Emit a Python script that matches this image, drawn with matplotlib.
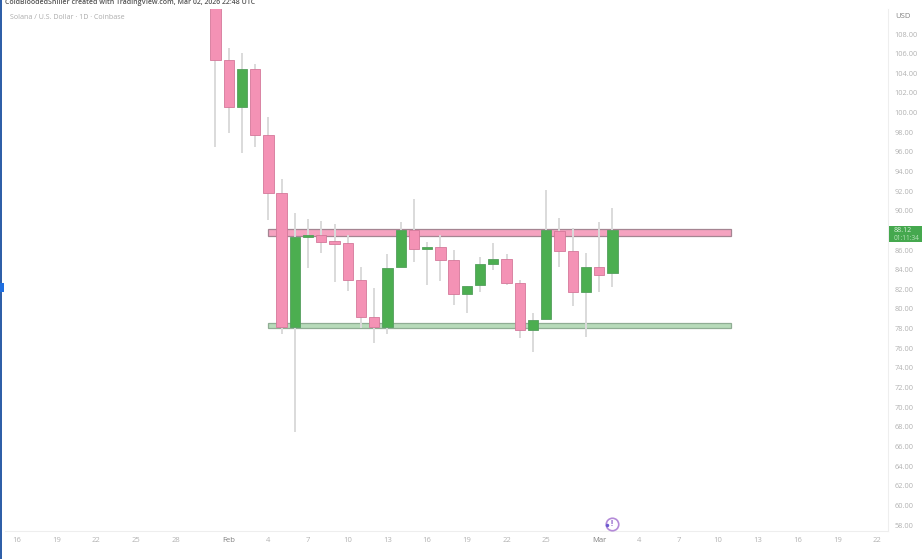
import numpy as np
import pandas as pd
import matplotlib
matplotlib.use('Agg')
from matplotlib import pyplot as plt
from matplotlib.patches import Rectangle
import matplotlib.dates as mdates

W=922
H=559
plt.rcParams['font.family']=['Open Sans','DejaVu Sans']

#Daily candles, 31 Jan to 2 Mar
dates=pd.date_range('2026-01-31','2026-03-02',freq='D')
opens=[110.6,105.40,100.60,104.44,97.71,91.84,78.19,87.33,87.53,86.92,86.69,82.92,79.21,78.19,84.24,88.01,
       86.07,86.34,85.02,81.49,82.41,84.62,85.09,82.67,77.86,78.95,87.97,85.87,81.76,84.30,83.63]
closes=[105.40,100.60,104.44,97.71,91.84,78.19,87.36,87.50,86.85,86.65,82.92,79.15,78.19,84.20,88.04,86.11,
        86.34,85.02,81.49,82.37,84.58,85.09,82.67,77.86,78.91,88.04,85.87,81.76,84.27,83.49,88.04]
highs=[110.6,106.57,106.07,104.95,99.55,93.23,89.77,89.13,88.99,88.65,87.53,84.30,82.13,85.57,88.82,91.17,
       86.85,87.53,86.00,82.37,85.32,86.69,85.60,82.90,79.56,92.11,89.23,88.21,85.67,88.82,90.25]
lows=[96.52,97.92,95.88,96.52,89.06,77.45,67.50,84.17,85.67,82.78,81.83,78.06,76.50,77.45,84.24,84.81,
      82.44,82.88,80.40,79.62,81.76,83.97,82.44,77.07,75.65,78.95,84.30,80.30,77.11,81.70,82.27]

#Support and resistance zones
zone_start='2026-02-04'
zone_end='2026-03-11'
res_zone=[87.46,88.11]
sup_zone=[78.03,78.60]

price_ticks=[58,60,62,64,66,68,70,72,74,76,78,80,82,84,86,90,92,94,96,98,100,102,104,106,108]
date_ticks=['2026-01-16','2026-01-19','2026-01-22','2026-01-25','2026-01-28','2026-02-01','2026-02-04','2026-02-07',
            '2026-02-10','2026-02-13','2026-02-16','2026-02-19','2026-02-22','2026-02-25','2026-03-01','2026-03-04',
            '2026-03-07','2026-03-10','2026-03-13','2026-03-16','2026-03-19','2026-03-22']
date_labels=['16','19','22','25','28','Feb','4','7','10','13','16','19','22','25','Mar','4','7','10','13','16','19','22']

pink='#f492b5'
pink_edge='#d4789a'
green='#4cae50'
green_edge='#549f5e'
wick='#dadada'
grey='#b2b2b2'

L,R,T,B=5,888,9,531
fig=plt.figure(figsize=(W/100,H/100),dpi=100)
ax=fig.add_axes([L/W,1-B/H,(R-L)/W,(B-T)/H])
#scale: 9.82 px per dollar, 13.23 px per day
ax.set_ylim(108-(B-34)/9.82,108-(T-34)/9.82)
d0=mdates.date2num(pd.Timestamp('2026-01-16'))
ax.set_xlim(d0+(L-17)/13.23,d0+(R-17)/13.23)

x=mdates.date2num(dates)
for i in range(len(x)):
    up=closes[i]>=opens[i]
    ax.vlines(x[i],lows[i],highs[i],color=wick,lw=1.4,zorder=3)
    ax.add_patch(Rectangle((x[i]-0.39,min(opens[i],closes[i])),0.78,abs(closes[i]-opens[i]),
                 fc=green if up else pink,ec=green_edge if up else pink_edge,lw=0.6,zorder=4))

zs=mdates.date2num(pd.Timestamp(zone_start))
ze=mdates.date2num(pd.Timestamp(zone_end))
ax.add_patch(Rectangle((zs,res_zone[0]),ze-zs,res_zone[1]-res_zone[0],fc='#f5a3c0',ec='#a58592',lw=0.9,zorder=2))
ax.add_patch(Rectangle((zs,sup_zone[0]),ze-zs,sup_zone[1]-sup_zone[0],fc='#b8dbba',ec='#90ad94',lw=0.9,zorder=2))

for s in ['top','left']:
    ax.spines[s].set_visible(False)
ax.spines['right'].set_color('#eeeeee')
ax.spines['bottom'].set_color('#eeeeee')
ax.yaxis.tick_right()
ax.set_yticks(price_ticks)
ax.set_yticklabels(['%.2f'%p for p in price_ticks],fontsize=5.3,color=grey)
ax.set_xticks(mdates.date2num(pd.to_datetime(date_ticks)))
ax.set_xticklabels(date_labels,fontsize=5.5,color=grey)
for t in ax.get_xticklabels():
    if t.get_text() in ('Feb','Mar'):
        t.set_color('#808080')
ax.tick_params(length=0,axis='y',pad=4.5)
ax.tick_params(length=0,axis='x',pad=4)

def px(a,b):
    return a/W,1-b/H

fig.text(*px(5,2.5),'ColdBloodedShiller created with TradingView.com, Mar 02, 2026 22:48 UTC',fontsize=5,
         color='#555555',va='center',fontweight='semibold')
fig.text(*px(10,17.5),'Solana / U.S. Dollar · 1D · Coinbase',fontsize=5.1,color='#ababab',va='center')
fig.text(*px(895,17),'USD',fontsize=5.5,color='#808080',va='center')

#current price label
fig.patches.append(Rectangle(px(889,242),33/W,16/H,transform=fig.transFigure,fc='#45a84e',ec='none'))
fig.text(*px(894,230.5),'88.12',fontsize=5,color='#d8f0da',va='center')
fig.text(*px(894,238),'01:11:34',fontsize=4.7,color='#b9e3bc',va='center')

#left toolbar edge
fig.patches.append(Rectangle((0,0),1.5/W,1,transform=fig.transFigure,fc='#2f5fa8',ec='none'))
fig.patches.append(Rectangle(px(0,292),4/W,9/H,transform=fig.transFigure,fc='#1f6fe0',ec='none'))

#event icon
ix,iy=px(612,524)
fig.add_artist(plt.Line2D([ix],[iy],marker='o',ms=9,mfc='white',mec='#b48ad8',mew=1.2,transform=fig.transFigure))
fig.add_artist(plt.Line2D([ix-5/W],[iy-1/H],marker='o',ms=2.5,mfc='#6a5ad0',mec='none',transform=fig.transFigure))
fig.text(ix,iy,'!',fontsize=5.5,color='#8a5ac8',ha='center',va='center',fontweight='bold')

fig.savefig('out.png',dpi=100)
